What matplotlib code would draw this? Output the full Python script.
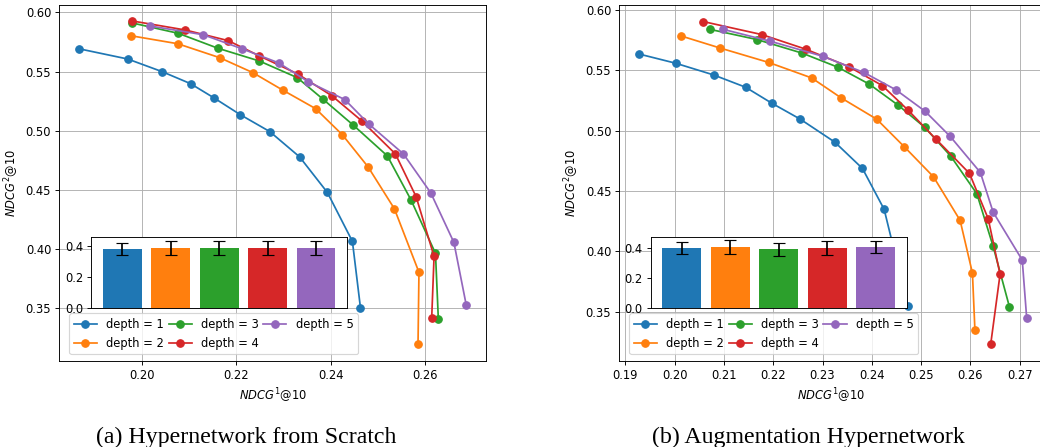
import matplotlib
matplotlib.use("Agg")
import matplotlib.pyplot as plt

DPI = 83

labels = ["depth = 1", "depth = 2", "depth = 3", "depth = 4", "depth = 5"]
colors = ["tab:blue", "tab:orange", "tab:green", "tab:red", "tab:purple"]

# (a) hypernetwork from scratch: NDCG^1@10 (x) vs NDCG^2@10 (y) per depth
scratch_x = [
    [0.1866, 0.1970, 0.2043, 0.2103, 0.2153, 0.2208, 0.2271, 0.2334, 0.2393, 0.2446, 0.2463],
    [0.1976, 0.2076, 0.2165, 0.2235, 0.2299, 0.2368, 0.2425, 0.2479, 0.2535, 0.2587, 0.2585],
    [0.1980, 0.2077, 0.2161, 0.2249, 0.2329, 0.2383, 0.2448, 0.2520, 0.2570, 0.2622, 0.2628],
    [0.1980, 0.2092, 0.2183, 0.2249, 0.2330, 0.2403, 0.2466, 0.2537, 0.2581, 0.2619, 0.2614],
    [0.2017, 0.2130, 0.2213, 0.2290, 0.2352, 0.2430, 0.2481, 0.2554, 0.2612, 0.2661, 0.2687],
]
scratch_y = [
    [0.5693, 0.5606, 0.5499, 0.5398, 0.5277, 0.5137, 0.4993, 0.4780, 0.4479, 0.4066, 0.3507],
    [0.5803, 0.5735, 0.5617, 0.5491, 0.5342, 0.5187, 0.4965, 0.4696, 0.4341, 0.3805, 0.3197],
    [0.5910, 0.5823, 0.5697, 0.5589, 0.5449, 0.5269, 0.5047, 0.4788, 0.4417, 0.3965, 0.3414],
    [0.5927, 0.5851, 0.5761, 0.5632, 0.5480, 0.5294, 0.5083, 0.4805, 0.4443, 0.3939, 0.3422],
    [0.5885, 0.5811, 0.5691, 0.5573, 0.5415, 0.5263, 0.5056, 0.4805, 0.4476, 0.4057, 0.3532],
]
scratch_bar = [0.383, 0.389, 0.389, 0.389, 0.389]
scratch_err = [0.041, 0.045, 0.044, 0.044, 0.042]

# (b) augmentation hypernetwork
aug_x = [
    [0.1927, 0.2002, 0.2079, 0.2144, 0.2197, 0.2255, 0.2325, 0.2381, 0.2425, 0.2473],
    [0.2013, 0.2092, 0.2191, 0.2278, 0.2338, 0.2410, 0.2466, 0.2525, 0.2579, 0.2604, 0.2609],
    [0.2071, 0.2167, 0.2259, 0.2331, 0.2395, 0.2454, 0.2507, 0.2560, 0.2613, 0.2646, 0.2679],
    [0.2058, 0.2177, 0.2266, 0.2353, 0.2421, 0.2473, 0.2530, 0.2598, 0.2636, 0.2660, 0.2641],
    [0.2098, 0.2194, 0.2300, 0.2384, 0.2449, 0.2508, 0.2559, 0.2620, 0.2646, 0.2705, 0.2714],
]
aug_y = [
    [0.5636, 0.5559, 0.5462, 0.5360, 0.5228, 0.5095, 0.4905, 0.4687, 0.4348, 0.3545],
    [0.5785, 0.5685, 0.5565, 0.5437, 0.5271, 0.5095, 0.4866, 0.4618, 0.4257, 0.3820, 0.3351],
    [0.5840, 0.5755, 0.5642, 0.5526, 0.5385, 0.5209, 0.5029, 0.4789, 0.4477, 0.4041, 0.3541],
    [0.5904, 0.5796, 0.5675, 0.5531, 0.5374, 0.5172, 0.4930, 0.4646, 0.4270, 0.3810, 0.3230],
    [0.5840, 0.5741, 0.5617, 0.5482, 0.5338, 0.5161, 0.4952, 0.4654, 0.4325, 0.3928, 0.3448],
]
aug_bar = [0.398, 0.405, 0.391, 0.398, 0.405]
aug_err = [0.042, 0.044, 0.043, 0.046, 0.041]

fig = plt.figure(figsize=(1040 / DPI, 447 / DPI), dpi=DPI)


def panel(rect, inset_rect, xs, ys, bars, errs, xlim, ylim, xticks, inset_top, leg_x):
    ax = fig.add_axes(rect)
    for x, y, lab, c in zip(xs, ys, labels, colors):
        ax.plot(x, y, "o-", color=c, label=lab, markersize=6.5)
    ax.set_xlim(*xlim)
    ax.set_ylim(*ylim)
    ax.set_xticks(xticks)
    ax.set_yticks([0.35, 0.40, 0.45, 0.50, 0.55, 0.60])
    ax.grid(True)
    ax.set_xlabel(r"$NDCG^1$@10")
    ax.set_ylabel(r"$NDCG^2$@10")
    ax.legend(ncol=3, loc="lower left", bbox_to_anchor=(leg_x, 0.0188),
              borderaxespad=0, columnspacing=0.4)

    # bar chart inset drawn over the curves
    ins = fig.add_axes(inset_rect, zorder=5)
    ins.bar(range(len(bars)), bars, color=colors, yerr=errs, capsize=5)
    ins.set_xticks([])
    ins.set_ylim(0, inset_top)
    ins.set_yticks([0.0, 0.2, 0.4])
    return ax


panel([0.0570, 0.1924, 0.4103, 0.7964], [0.0878, 0.3103, 0.2459, 0.1588],
      scratch_x, scratch_y, scratch_bar, scratch_err,
      (0.1825, 0.2729), (0.3056, 0.6062), [0.20, 0.22, 0.24, 0.26], 0.458, 0.0234)

panel([0.5955, 0.1924, 0.4064, 0.7964], [0.6257, 0.3103, 0.2462, 0.1588],
      aug_x, aug_y, aug_bar, aug_err,
      (0.1888, 0.2745), (0.3092, 0.6041),
      [0.19, 0.20, 0.21, 0.22, 0.23, 0.24, 0.25, 0.26, 0.27], 0.469, 0.0237)

fig.text(246 / 1040, 4 / 447, "(a) Hypernetwork from Scratch", ha="center",
         va="baseline", fontsize=20.7, family="Liberation Serif")
fig.text(808 / 1040, 4 / 447, "(b) Augmentation Hypernetwork", ha="center",
         va="baseline", fontsize=20.7, family="Liberation Serif")

fig.savefig("out.png", dpi=DPI)
